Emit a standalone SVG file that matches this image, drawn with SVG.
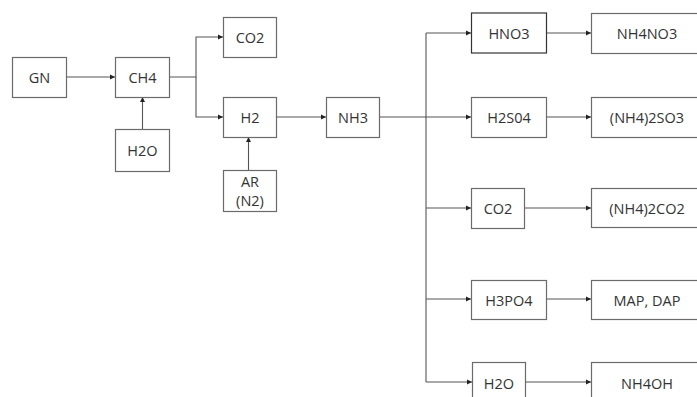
<svg xmlns="http://www.w3.org/2000/svg" width="697" height="397" viewBox="0 0 697 397">
<style>
.box{fill:#fff;stroke:#6b6b6b;stroke-width:1.2}
.lbl{font-family:"Open Sans","Noto Sans",sans-serif;font-size:14.5px;fill:#333;text-anchor:middle;dominant-baseline:central}
.ln{fill:none;stroke:#555;stroke-width:1.1}
</style>
<defs>
<marker id="ah" markerWidth="6" markerHeight="6" refX="5" refY="3" orient="auto" markerUnits="userSpaceOnUse">
<path d="M0,0.5 L5,3 L0,5.5 Z" fill="#222"/>
</marker>
</defs>
<rect width="697" height="397" fill="#fff"/>
<g id="connectors">
<path class="ln" d="M66,77 H115" marker-end="url(#ah)"/>
<path class="ln" d="M142.5,129 V97" marker-end="url(#ah)"/>
<path class="ln" d="M169,77 H196 V37 H223" marker-end="url(#ah)"/>
<path class="ln" d="M196,77 V117 H223" marker-end="url(#ah)"/>
<path class="ln" d="M248.5,170 V137" marker-end="url(#ah)"/>
<path class="ln" d="M276,117 H326" marker-end="url(#ah)"/>
<path class="ln" d="M379,117 H471" marker-end="url(#ah)"/>
<path class="ln" d="M426,33 V382"/>
<path class="ln" d="M426,33 H471" marker-end="url(#ah)"/>
<path class="ln" d="M426,208 H471" marker-end="url(#ah)"/>
<path class="ln" d="M426,299 H471" marker-end="url(#ah)"/>
<path class="ln" d="M426,382 H472" marker-end="url(#ah)"/>
<path class="ln" d="M546,33 H591" marker-end="url(#ah)"/>
<path class="ln" d="M546,117 H591" marker-end="url(#ah)"/>
<path class="ln" d="M525,208 H591" marker-end="url(#ah)"/>
<path class="ln" d="M546,299 H591" marker-end="url(#ah)"/>
<path class="ln" d="M526,382 H591" marker-end="url(#ah)"/>
</g>
<g id="GN"><rect class="box" x="12.5" y="57.5" width="54" height="40"/><text class="lbl" x="39.5" y="77.5">GN</text></g>
<g id="CH4"><rect class="box" x="115.5" y="57.5" width="54" height="40"/><text class="lbl" x="142.5" y="77.5">CH4</text></g>
<g id="H2O_a"><rect class="box" x="115.5" y="129.5" width="54" height="42"/><text class="lbl" x="142.5" y="150.5">H2O</text></g>
<g id="CO2_a"><rect class="box" x="223.5" y="17.5" width="53" height="40"/><text class="lbl" x="250" y="37.5">CO2</text></g>
<g id="H2"><rect class="box" x="223.5" y="97.5" width="53" height="40"/><text class="lbl" x="250" y="117.5">H2</text></g>
<g id="AR"><rect class="box" x="223.5" y="170.5" width="53" height="41"/><text class="lbl" x="250" y="181.5">AR</text><text class="lbl" x="250" y="200">(N2)</text></g>
<g id="NH3"><rect class="box" x="326.5" y="97.5" width="53" height="40"/><text class="lbl" x="353" y="117.5">NH3</text></g>
<g id="HNO3"><rect class="box" x="471.5" y="13" width="75" height="40" style="stroke:#333"/><text class="lbl" x="509" y="33">HNO3</text></g>
<g id="H2SO4"><rect class="box" x="471.5" y="97.5" width="75" height="40"/><text class="lbl" x="509" y="117.5">H2S04</text></g>
<g id="CO2_b"><rect class="box" x="471.5" y="188.5" width="53" height="40"/><text class="lbl" x="498" y="208.5">CO2</text></g>
<g id="H3PO4"><rect class="box" x="471.5" y="280.5" width="75" height="39"/><text class="lbl" x="509" y="300">H3PO4</text></g>
<g id="H2O_b"><rect class="box" x="472.5" y="362.5" width="53" height="45"/><text class="lbl" x="499" y="383">H2O</text></g>
<g id="NH4NO3"><rect class="box" x="591.5" y="13.5" width="110" height="40"/><text class="lbl" x="647" y="33.5">NH4NO3</text></g>
<g id="NH42SO3"><rect class="box" x="591.5" y="97.5" width="110" height="40"/><text class="lbl" x="647" y="117.5">(NH4)2SO3</text></g>
<g id="NH42CO2"><rect class="box" x="591.5" y="188.5" width="110" height="39"/><text class="lbl" x="647" y="208">(NH4)2CO2</text></g>
<g id="MAPDAP"><rect class="box" x="591.5" y="280.5" width="110" height="39"/><text class="lbl" x="647" y="300">MAP, DAP</text></g>
<g id="NH4OH"><rect class="box" x="591.5" y="362.5" width="110" height="45"/><text class="lbl" x="647" y="383">NH4OH</text></g>
</svg>
